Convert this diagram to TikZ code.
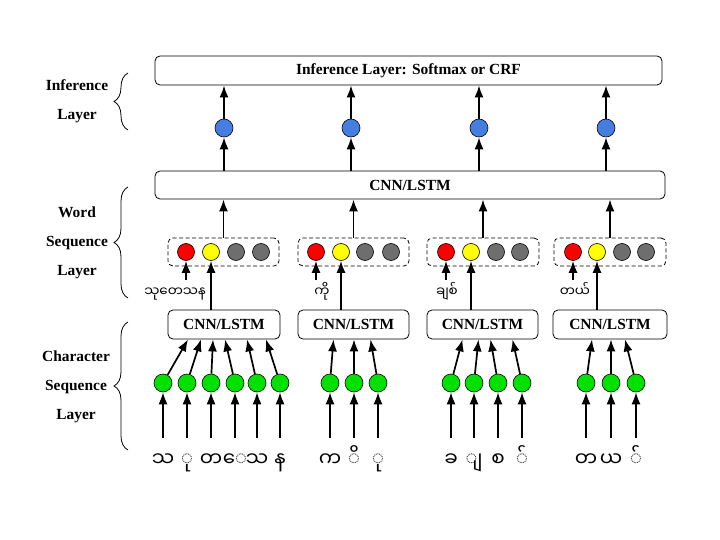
\documentclass[tikz,border=0pt]{standalone}
\usepackage{fontspec}
\setmainfont{Liberation Serif}
\newfontfamily\myan[Script=Myanmar]{Noto Sans Myanmar UI}
\usepackage{tikz}
\usetikzlibrary{positioning,arrows.meta,decorations.pathreplacing}

\definecolor{dotblue}{RGB}{70,125,225}
\definecolor{dotred}{RGB}{255,0,0}
\definecolor{dotyellow}{RGB}{255,255,0}
\definecolor{dotgray}{RGB}{110,110,110}
\definecolor{dotgreen}{RGB}{0,225,0}

\begin{document}
\begin{tikzpicture}[x=1bp,y=-1bp,
	cbox/.style={draw,rounded corners=5bp,line width=0.8bp,inner sep=0,font=\bfseries\fontsize{15.5}{18}\selectfont},
	wbox/.style={draw,dash pattern=on 4bp off 2.5bp,rounded corners=5bp,line width=0.8bp,minimum width=111bp,minimum height=28bp},
	cdot/.style={circle,draw,line width=0.6bp,minimum size=17bp,inner sep=0},
	gdot/.style={cdot,fill=dotgreen,minimum size=18bp},
	arr/.style={-{Latex[length=12bp,width=9bp]},line width=1.7bp},
	side/.style={align=center,font=\bfseries\fontsize{15.5}{29}\selectfont},
	lbrace/.style={decorate,decoration={brace,amplitude=14bp},line width=0.8bp},
	chr/.style={font=\myan\fontsize{20}{20}\selectfont,inner xsep=0,inner ysep=14bp,text height=14bp,text depth=6bp},
	word/.style={font=\myan\fontsize{13.5}{14}\selectfont,inner xsep=1bp,inner ysep=10bp,text height=6bp,text depth=4bp}]
			\useasboundingbox (0,0) rectangle (720,540);

			\node[cbox,minimum width=507bp,minimum height=29bp] (inf) at (408.5,70.5) {Inference Layer: Softmax or CRF};
			\node[cbox,minimum width=510bp,minimum height=28bp] (cnn) at (410,185) {CNN/LSTM};

			\node[cdot,fill=dotblue,minimum size=18bp] (b1) at (224,128) {};
			\node[cdot,fill=dotblue,minimum size=18bp] (b2) at (351,128) {};
			\node[cdot,fill=dotblue,minimum size=18bp] (b3) at (479,128) {};
			\node[cdot,fill=dotblue,minimum size=18bp] (b4) at (606,128) {};

			\node[wbox] (w1) at (223.5,252) {};
			\node[wbox] (w2) at (353.5,252) {};
			\node[wbox,minimum width=112bp] (w3) at (483,252) {};
			\node[wbox,minimum width=112bp] (w4) at (610,252) {};

			\node[cdot,fill=dotred] (r1) at (186,252) {};
			\node[cdot,fill=dotyellow] (y1) at (211,252) {};
			\node[cdot,fill=dotgray] (d1a) at (236,252) {};
			\node[cdot,fill=dotgray] (d1b) at (261,252) {};
			\node[cdot,fill=dotred] (r2) at (316,252) {};
			\node[cdot,fill=dotyellow] (y2) at (341,252) {};
			\node[cdot,fill=dotgray] (d2a) at (365,252) {};
			\node[cdot,fill=dotgray] (d2b) at (391,252) {};
			\node[cdot,fill=dotred] (r3) at (446,252) {};
			\node[cdot,fill=dotyellow] (y3) at (471,252) {};
			\node[cdot,fill=dotgray] (d3a) at (496,252) {};
			\node[cdot,fill=dotgray] (d3b) at (520,252) {};
			\node[cdot,fill=dotred] (r4) at (573,252) {};
			\node[cdot,fill=dotyellow] (y4) at (597,252) {};
			\node[cdot,fill=dotgray] (d4a) at (622,252) {};
			\node[cdot,fill=dotgray] (d4b) at (646,252) {};

			\node[word] (t1) at (175,295) {သုတေသန};
			\node[word] (t2) at (322,295) {ကို};
			\node[word] (t3) at (447,295) {ချစ်};
			\node[word] (t4) at (575,295) {တယ်};

			\node[cbox,minimum width=112bp,minimum height=29bp] (c1) at (224,324.5) {CNN/LSTM};
			\node[cbox,minimum width=111bp,minimum height=29bp] (c2) at (353.5,324.5) {CNN/LSTM};
			\node[cbox,minimum width=111bp,minimum height=29bp] (c3) at (482.5,324.5) {CNN/LSTM};
			\node[cbox,minimum width=114bp,minimum height=29bp] (c4) at (610,324.5) {CNN/LSTM};

			\node[gdot] (g11) at (163,383) {}; \node[chr] (k11) at (163,462) {သ};
			\node[gdot] (g12) at (187,383) {}; \node[chr] (k12) at (187,462) {ု};
			\node[gdot] (g13) at (211,383) {}; \node[chr] (k13) at (211,462) {တ};
			\node[gdot] (g14) at (235,383) {}; \node[chr] (k14) at (235,462) {ေ};
			\node[gdot] (g15) at (257,383) {}; \node[chr] (k15) at (257,462) {သ};
			\node[gdot] (g16) at (280,383) {}; \node[chr] (k16) at (280,462) {န};
			\node[gdot] (g21) at (330,383) {}; \node[chr] (k21) at (330,462) {က};
			\node[gdot] (g22) at (354,383) {}; \node[chr] (k22) at (354,462) {ိ};
			\node[gdot] (g23) at (378,383) {}; \node[chr] (k23) at (378,462) {ု};
			\node[gdot] (g31) at (451,383) {}; \node[chr] (k31) at (451,462) {ခ};
			\node[gdot] (g32) at (474,383) {}; \node[chr] (k32) at (474,462) {ျ};
			\node[gdot] (g33) at (498,383) {}; \node[chr] (k33) at (498,462) {စ};
			\node[gdot] (g34) at (522,383) {}; \node[chr] (k34) at (522,462) {်};
			\node[gdot] (g41) at (586,383) {}; \node[chr] (k41) at (586,462) {တ};
			\node[gdot] (g42) at (611,383) {}; \node[chr] (k42) at (611,462) {ယ};
			\node[gdot] (g43) at (636,383) {}; \node[chr] (k43) at (636,462) {်};

			\node[side] (li) at (77,101.5) {Inference\\Layer};
			\node[side] (lw) at (77,243) {Word\\Sequence\\Layer};
			\node[side] (lc) at (76,387) {Character\\Sequence\\Layer};
			\draw[lbrace] (128,130) -- (128,73);
			\draw[lbrace] (128,298) -- (128,187);
			\draw[lbrace] (128,450) -- (128,322);

			\draw[arr] (b1) -- (b1 |- inf.south); \draw[arr] (b1 |- cnn.north) -- (b1);
			\draw[arr] (b2) -- (b2 |- inf.south); \draw[arr] (b2 |- cnn.north) -- (b2);
			\draw[arr] (b3) -- (b3 |- inf.south); \draw[arr] (b3 |- cnn.north) -- (b3);
			\draw[arr] (b4) -- (b4 |- inf.south); \draw[arr] (b4 |- cnn.north) -- (b4);

			\draw[arr] (w1.north) -- (w1.north |- cnn.south);
			\draw[arr] (w2.north) -- (w2.north |- cnn.south);
			\draw[arr] (w3.north) -- (w3.north |- cnn.south);
			\draw[arr] (w4.north) -- (w4.north |- cnn.south);

			\draw[arr] (r1 |- t1.north) -- (r1); \draw[arr] (y1 |- c1.north) -- (y1);
			\draw[arr] (r2 |- t2.north) -- (r2); \draw[arr] (y2 |- c2.north) -- (y2);
			\draw[arr] (r3 |- t3.north) -- (r3); \draw[arr] (y3 |- c3.north) -- (y3);
			\draw[arr] (r4 |- t4.north) -- (r4); \draw[arr] (y4 |- c4.north) -- (y4);

			\draw[arr] (g11) -- ([xshift=-36bp]c1.south); \draw[arr] (g12) -- ([xshift=-23bp]c1.south);
			\draw[arr] (g13) -- ([xshift=-11bp]c1.south); \draw[arr] (g14) -- ([xshift=1bp]c1.south);
			\draw[arr] (g15) -- ([xshift=23bp]c1.south); \draw[arr] (g16) -- ([xshift=42bp]c1.south);
			\draw[arr] (g21) -- ([xshift=-20bp]c2.south); \draw[arr] (g22) -- (g22 |- c2.south);
			\draw[arr] (g23) -- ([xshift=17bp]c2.south);
			\draw[arr] (g31) -- ([xshift=-20bp]c3.south); \draw[arr] (g32) -- ([xshift=-4bp]c3.south);
			\draw[arr] (g33) -- ([xshift=8bp]c3.south); \draw[arr] (g34) -- ([xshift=30bp]c3.south);
			\draw[arr] (g41) -- ([xshift=-18bp]c4.south); \draw[arr] (g42) -- (g42 |- c4.south);
			\draw[arr] (g43) -- ([xshift=15bp]c4.south);

			\draw[arr] (k11.north) -- (g11); \draw[arr] (k12.north) -- (g12);
			\draw[arr] (k13.north) -- (g13); \draw[arr] (k14.north) -- (g14);
			\draw[arr] (k15.north) -- (g15); \draw[arr] (k16.north) -- (g16);
			\draw[arr] (k21.north) -- (g21); \draw[arr] (k22.north) -- (g22);
			\draw[arr] (k23.north) -- (g23);
			\draw[arr] (k31.north) -- (g31); \draw[arr] (k32.north) -- (g32);
			\draw[arr] (k33.north) -- (g33); \draw[arr] (k34.north) -- (g34);
			\draw[arr] (k41.north) -- (g41); \draw[arr] (k42.north) -- (g42);
			\draw[arr] (k43.north) -- (g43);
		\end{tikzpicture}
\end{document}
